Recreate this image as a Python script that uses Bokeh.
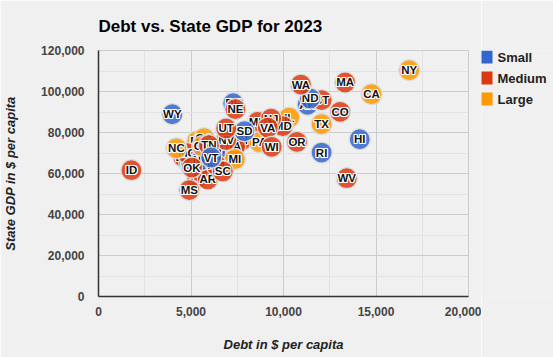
import numpy as np
from bokeh.plotting import figure
from bokeh.layouts import row
from bokeh.models import (ColumnDataSource, CDSView, IndexFilter, Range1d, FixedTicker,
                          NumeralTickFormatter)
from bokeh.core.properties import value
from bokeh.embed import file_html
from bokeh.resources import INLINE

# Data (ordered alphabetically by full state name; later ones drawn on top)
states = ["AL", "AK", "AZ", "AR", "CA", "CO", "CT", "DE", "FL", "GA",
          "HI", "ID", "IL", "IN", "IA", "KS", "KY", "LA", "ME", "MD",
          "MA", "MI", "MN", "MS", "MO", "MT", "NE", "NV", "NH", "NJ",
          "NM", "NY", "NC", "ND", "OH", "OK", "OR", "PA", "RI", "SC",
          "SD", "TN", "TX", "UT", "VT", "VA", "WA", "WV", "WI", "WY"]
debt = [5340, 11300, 5550, 5910, 14760, 13060, 12060, 7280, 5340, 5710,
        14120, 1780, 10310, 7760, 7390, 6250, 6420, 4580, 4910, 9960,
        13330, 7370, 8610, 4910, 4800, 6310, 7400, 6900, 5550, 9330,
        6360, 16800, 4210, 11440, 5610, 5050, 10730, 8700, 12060, 6720,
        7890, 5970, 12060, 6900, 6090, 9150, 10940, 13420, 9360, 3990]
gdp = [57700, 93500, 60600, 57100, 98700, 90100, 95800, 94300, 75800, 77200,
       76700, 61600, 87300, 76300, 73300, 72400, 68900, 68000, 65000, 83100,
       104400, 67000, 85200, 51900, 69900, 70400, 91400, 76300, 66500, 86800,
       64100, 110400, 72300, 96600, 73300, 62900, 75400, 75400, 70200, 61000,
       80600, 73800, 84100, 82000, 67800, 82400, 103400, 57700, 73000, 88900]
size_cat = ["Medium", "Small", "Medium", "Medium", "Large", "Medium", "Medium", "Small", "Large", "Large",
            "Small", "Medium", "Large", "Medium", "Medium", "Medium", "Medium", "Medium", "Small", "Medium",
            "Medium", "Large", "Medium", "Medium", "Medium", "Small", "Medium", "Medium", "Small", "Medium",
            "Medium", "Large", "Large", "Small", "Large", "Medium", "Medium", "Large", "Small", "Medium",
            "Small", "Medium", "Large", "Medium", "Small", "Medium", "Medium", "Medium", "Medium", "Small"]
categories = ["Small", "Medium", "Large"]
cat_colors = {"Small": "#3366cc", "Medium": "#dc3912", "Large": "#ff9900"}
x_ticks = [0, 5000, 10000, 15000, 20000]
y_ticks = [0, 20000, 40000, 60000, 80000, 100000, 120000]

FONT = "Liberation Sans"
BG = "#f0f0f0"

p = figure(width=481, height=357, output_backend="svg", toolbar_location=None,
           x_range=Range1d(0, 20000), y_range=Range1d(0, 120000),
           min_border_left=97, min_border_right=13, min_border_top=50, min_border_bottom=61,
           background_fill_color=BG, border_fill_color=BG, outline_line_color="#cccccc")

p.title.text = "Debt vs. State GDP for 2023"
p.title.text_font = FONT
p.title.text_font_size = "17px"
p.title.text_font_style = "bold"
p.title.text_color = "#000000"
p.title.align = "left"
p.title.standoff = 29

xt = FixedTicker(ticks=x_ticks, minor_ticks=[2500, 7500, 12500, 17500])
yt = FixedTicker(ticks=y_ticks, minor_ticks=[10000, 30000, 50000, 70000, 90000, 110000])
p.xaxis.ticker = xt
p.yaxis.ticker = yt
p.xgrid.ticker = xt
p.ygrid.ticker = yt
for g in (p.xgrid, p.ygrid):
    g.grid_line_color = "#cccccc"
    g.minor_grid_line_color = "#e2e2e2"

for ax in (p.xaxis, p.yaxis):
    ax.formatter = NumeralTickFormatter(format="0,0")
    ax.major_tick_line_color = None
    ax.minor_tick_line_color = None
    ax.major_tick_out = 0
    ax.minor_tick_out = 0
    ax.axis_line_color = "#333333"
    ax.axis_line_width = 1.5
    ax.major_label_text_font = FONT
    ax.major_label_text_font_style = "bold"
    ax.major_label_text_font_size = "12px"
    ax.major_label_text_color = "#444444"
    ax.axis_label_text_font = FONT
    ax.axis_label_text_font_style = "bold italic"
    ax.axis_label_text_font_size = "13px"
    ax.axis_label_text_color = "#222222"

p.xaxis.axis_label = "Debt in $ per capita"
p.yaxis.axis_label = "State GDP in $ per capita"
p.xaxis.major_label_standoff = 10
p.yaxis.major_label_standoff = 14
p.xaxis.axis_label_standoff = 18
p.yaxis.axis_label_standoff = 20

colors = [cat_colors[c] for c in size_cat]
src = ColumnDataSource(dict(x=debt, y=gdp, label=states, color=colors))

offs = [(-1, -1), (0, -1), (1, -1), (-1, 0), (1, 0), (-1, 1), (0, 1), (1, 1)]
n = len(states)
halo = dict(x=[], y=[], label=[], xo=[], yo=[])
for i in range(n):
    for dx, dy in offs:
        halo["x"].append(debt[i]); halo["y"].append(gdp[i]); halo["label"].append(states[i])
        halo["xo"].append(dx); halo["yo"].append(dy)
hsrc = ColumnDataSource(halo)

for i in range(n):
    v = CDSView(filter=IndexFilter([i]))
    p.scatter("x", "y", source=src, view=v, size=21, fill_color="color", fill_alpha=0.85,
              line_color="#dddddd", line_width=1.2)
    hv = CDSView(filter=IndexFilter(list(range(8 * i, 8 * i + 8))))
    p.text("x", "y", "label", source=hsrc, view=hv, x_offset="xo", y_offset="yo",
           text_color="white", text_font=value(FONT), text_font_style="bold",
           text_font_size="11.5px", text_align="center", text_baseline="middle")
    p.text("x", "y", "label", source=src, view=v,
           text_color="#111111", text_font=value(FONT), text_font_style="bold",
           text_font_size="11.5px", text_align="center", text_baseline="middle")

# Legend drawn on a small companion canvas to the right; its frame is aligned
# with the chart frame (screen y 50..296), so the y range uses page pixels.
lg = figure(width=72, height=357, output_backend="svg", toolbar_location=None,
            x_axis_type=None, y_axis_type=None, x_range=Range1d(2, 74), y_range=Range1d(296, 50),
            min_border=0, background_fill_color=BG, border_fill_color=BG, outline_line_color=None)
lg.grid.visible = False
row_idx = list(range(len(categories)))
leg_src = ColumnDataSource(dict(
    cat=categories,
    color=[cat_colors[c] for c in categories],
    top=[50 + 21 * k for k in row_idx],
    bottom=[63 + 21 * k for k in row_idx],
    ty=[56.5 + 21 * k for k in row_idx],
))
lg.quad(left=0, right=13, top="top", bottom="bottom", fill_color="color", line_color=None, source=leg_src)
lg.text(x=18, y="ty", text="cat", source=leg_src, text_color="#222222", text_font=value(FONT),
        text_font_style="bold", text_font_size="13px", text_baseline="middle", text_align="left")

layout = row(p, lg)
open("out.html", "w").write(file_html(layout, INLINE))
